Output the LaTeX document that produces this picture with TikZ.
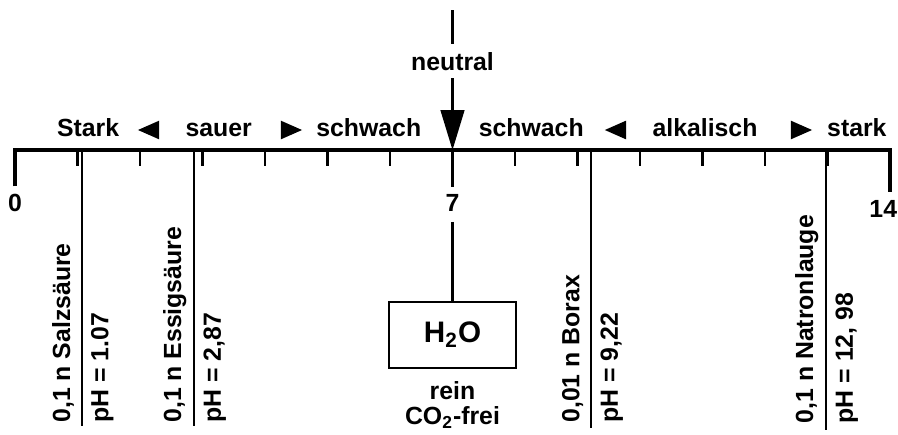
\documentclass[tikz,border=0pt]{standalone}
\usepackage{fontspec}
\setmainfont{Liberation Sans}
\usetikzlibrary{arrows.meta,positioning,shapes.geometric}

\begin{document}
\begin{tikzpicture}[every node/.style={font=\fontsize{11.3}{11.6}\selectfont\bfseries},
  tk/.style={line width=1pt},
  axisln/.style={line width=1.5pt},
  tri/.style={isosceles triangle, isosceles triangle stretches, fill=black, inner sep=0pt, minimum width=0.3cm, minimum height=0.34cm},
  subst/.style={rotate=90, anchor=south west, inner sep=0pt},
  phval/.style={rotate=90, anchor=north west, inner sep=0pt}]
\useasboundingbox (-0.24,-4.544) rectangle (14.128,2.4);
% Skala
\coordinate (p0) at (0,0);
\coordinate (p7) at (7,0);
\coordinate (p14) at (14,0);
\coordinate (p0e) at (0,-0.58);
\coordinate (p7e) at (7,-0.59);
\coordinate (p14e) at (14,-0.67);
\draw[axisln] (p0e) -- (p0) -- (p14) -- (p14e);
\draw[tk] (p7) -- (p7e);
\foreach \i in {1,...,6,8,9,...,13}
  \draw[tk] (\i,0) -- (\i,-0.26);
\node (n0) at (0,-0.85) {0};
\node (n7) at (7,-0.85) {7};
\node[anchor=east, inner sep=0pt] (n14) at (14.12,-0.94) {14};
% Bereiche
\node[anchor=base] (stark1) at (1.17,0.21) {Stark};
\node[tri, shape border rotate=180] (t1) at (2.21,0.32) {};
\node[anchor=base] (sauer) at (3.26,0.21) {sauer};
\node[tri] (t2) at (4.35,0.32) {};
\node[anchor=base] (schw1) at (5.66,0.21) {schwach};
\node[anchor=base] (schw2) at (8.26,0.21) {schwach};
\node[tri, shape border rotate=180] (t3) at (9.68,0.32) {};
\node[anchor=base] (alk) at (11.04,0.21) {alkalisch};
\node[tri] (t4) at (12.51,0.32) {};
\node[anchor=base] (stark2) at (13.47,0.21) {stark};
% neutral
\coordinate (ntop) at (7,2.24);
\node (neutral) at (7,1.42) {neutral};
\draw[tk] (ntop) -- (neutral);
\draw[tk, -{Triangle[length=0.64cm,width=0.38cm]}] (neutral) -- (p7);
% Wasser
\coordinate (h7) at (7,-1.15);
\node[draw, line width=1pt, minimum width=2.02cm, minimum height=1.06cm, font=\fontsize{13.5}{14}\selectfont\bfseries] (water) at (7,-2.96) {H\textsubscript{2}O};
\draw[tk] (h7) -- (water);
\node[below=0.07cm of water, align=center] (rein) {rein\\CO\textsubscript{2}-frei};
% Loesungen
\coordinate (hcl) at (1.07,0);
\coordinate (hclb) at (1.07,-4.42);
\draw[tk] (hcl) -- (hclb);
\node[subst] (hcln) at ([xshift=-0.12cm, yshift=0.05cm]hclb) {0,1 n Salzsäure};
\node[phval] (hclp) at ([xshift=0.14cm, yshift=0.05cm]hclb) {pH = 1.07};
\coordinate (ess) at (2.87,0);
\coordinate (essb) at (2.87,-4.42);
\draw[tk] (ess) -- (essb);
\node[subst] (essn) at ([xshift=-0.12cm, yshift=0.05cm]essb) {0,1 n Essigsäure};
\node[phval] (essp) at ([xshift=0.14cm, yshift=0.05cm]essb) {pH = 2,87};
\coordinate (bor) at (9.22,0);
\coordinate (borb) at (9.22,-4.44);
\draw[tk] (bor) -- (borb);
\node[subst] (born) at ([xshift=-0.12cm, yshift=0.07cm]borb) {0,01 n Borax};
\node[phval] (borp) at ([xshift=0.14cm, yshift=0.07cm]borb) {pH = 9,22};
\coordinate (nat) at (12.98,0);
\coordinate (natb) at (12.98,-4.48);
\draw[tk] (nat) -- (natb);
\node[subst] (natn) at ([xshift=-0.12cm, yshift=0.1cm]natb) {0,1 n Natronlauge};
\node[phval] (natp) at ([xshift=0.14cm, yshift=0.1cm]natb) {pH = 12, 98};
\end{tikzpicture}
\end{document}
